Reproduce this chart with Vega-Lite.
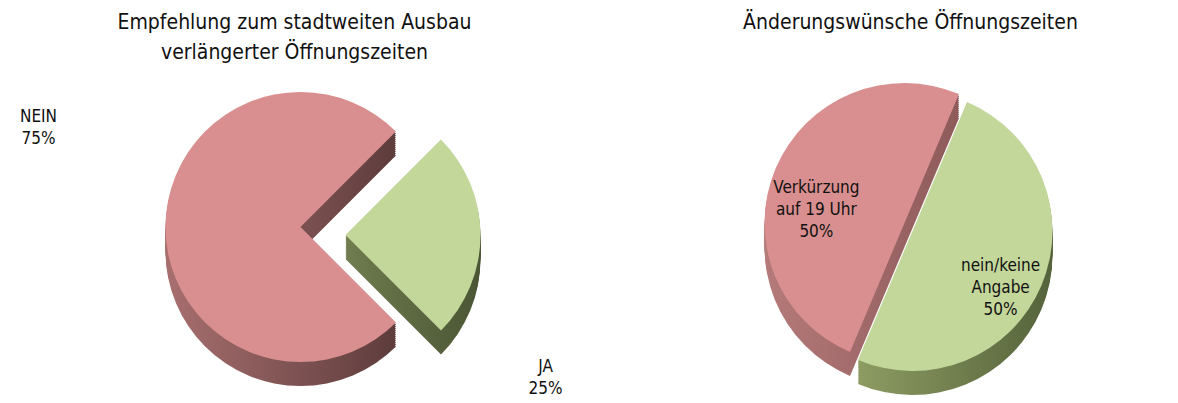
{
  "$schema": "https://vega.github.io/schema/vega-lite/v6.json",
  "padding": {"top": 12, "left": 0, "right": 0, "bottom": 0},
  "spacing": 0,
  "background": "white",
  "config": {
    "view": {"stroke": null},
    "title": {"font": "DejaVu Sans Condensed, Liberation Sans, sans-serif", "fontSize": 21, "fontWeight": "normal", "color": "#111111", "lineHeight": 30, "offset": 4},
    "text": {"font": "DejaVu Sans Condensed, Liberation Sans, sans-serif", "fontSize": 17, "lineBreak": "\n", "color": "#111111", "lineHeight": 22}
  },
  "hconcat": [
    {
      "width": 589,
      "height": 320,
      "title": {"text": ["Empfehlung zum stadtweiten Ausbau", "verlängerter Öffnungszeiten"]},
      "data": {"values": [
        {"cat": "JA", "pct": 25, "order": 1, "label": "JA\n25%"},
        {"cat": "NEIN", "pct": 75, "order": 2, "label": "NEIN\n75%"}
      ]},
      "transform": [{"stack": "pct", "groupby": [], "sort": [{"field": "order", "order": "ascending"}], "as": ["t0", "t1"]}],
      "layer": [
        {
          "transform": [{"filter": "datum.cat === 'NEIN'"}],
          "encoding": {"theta": {"field": "t0", "type": "quantitative", "scale": {"domain": [0, 100], "range": [0.785, 7.068]}}, "theta2": {"field": "t1"}},
          "layer": [
            {"mark": {"type": "arc", "outerRadius": 135, "xOffset": 6, "yOffset": 24, "color": {"gradient": "linear", "x1": 0, "y1": 0, "x2": 1, "y2": 0, "stops": [{"offset": 0, "color": "#a86f6f"}, {"offset": 1, "color": "#5e3c3c"}]}}},
            {"mark": {"type": "arc", "outerRadius": 135, "xOffset": 6, "yOffset": 22, "color": {"gradient": "linear", "x1": 0, "y1": 0, "x2": 1, "y2": 0, "stops": [{"offset": 0, "color": "#a86f6f"}, {"offset": 1, "color": "#5e3c3c"}]}}},
            {"mark": {"type": "arc", "outerRadius": 135, "xOffset": 6, "yOffset": 20, "color": {"gradient": "linear", "x1": 0, "y1": 0, "x2": 1, "y2": 0, "stops": [{"offset": 0, "color": "#a86f6f"}, {"offset": 1, "color": "#5e3c3c"}]}}},
            {"mark": {"type": "arc", "outerRadius": 135, "xOffset": 6, "yOffset": 18, "color": {"gradient": "linear", "x1": 0, "y1": 0, "x2": 1, "y2": 0, "stops": [{"offset": 0, "color": "#a86f6f"}, {"offset": 1, "color": "#5e3c3c"}]}}},
            {"mark": {"type": "arc", "outerRadius": 135, "xOffset": 6, "yOffset": 16, "color": {"gradient": "linear", "x1": 0, "y1": 0, "x2": 1, "y2": 0, "stops": [{"offset": 0, "color": "#a86f6f"}, {"offset": 1, "color": "#5e3c3c"}]}}},
            {"mark": {"type": "arc", "outerRadius": 135, "xOffset": 6, "yOffset": 14, "color": {"gradient": "linear", "x1": 0, "y1": 0, "x2": 1, "y2": 0, "stops": [{"offset": 0, "color": "#a86f6f"}, {"offset": 1, "color": "#5e3c3c"}]}}},
            {"mark": {"type": "arc", "outerRadius": 135, "xOffset": 6, "yOffset": 12, "color": {"gradient": "linear", "x1": 0, "y1": 0, "x2": 1, "y2": 0, "stops": [{"offset": 0, "color": "#a86f6f"}, {"offset": 1, "color": "#5e3c3c"}]}}},
            {"mark": {"type": "arc", "outerRadius": 135, "xOffset": 6, "yOffset": 10, "color": {"gradient": "linear", "x1": 0, "y1": 0, "x2": 1, "y2": 0, "stops": [{"offset": 0, "color": "#a86f6f"}, {"offset": 1, "color": "#5e3c3c"}]}}},
            {"mark": {"type": "arc", "outerRadius": 135, "xOffset": 6, "yOffset": 8, "color": {"gradient": "linear", "x1": 0, "y1": 0, "x2": 1, "y2": 0, "stops": [{"offset": 0, "color": "#a86f6f"}, {"offset": 1, "color": "#5e3c3c"}]}}},
            {"mark": {"type": "arc", "outerRadius": 135, "xOffset": 6, "yOffset": 6, "color": {"gradient": "linear", "x1": 0, "y1": 0, "x2": 1, "y2": 0, "stops": [{"offset": 0, "color": "#a86f6f"}, {"offset": 1, "color": "#5e3c3c"}]}}},
            {"mark": {"type": "arc", "outerRadius": 135, "xOffset": 6, "yOffset": 4, "color": {"gradient": "linear", "x1": 0, "y1": 0, "x2": 1, "y2": 0, "stops": [{"offset": 0, "color": "#a86f6f"}, {"offset": 1, "color": "#5e3c3c"}]}}},
            {"mark": {"type": "arc", "outerRadius": 135, "xOffset": 6, "yOffset": 2, "color": {"gradient": "linear", "x1": 0, "y1": 0, "x2": 1, "y2": 0, "stops": [{"offset": 0, "color": "#a86f6f"}, {"offset": 1, "color": "#5e3c3c"}]}}},
            {"mark": {"type": "arc", "outerRadius": 135, "xOffset": 6, "yOffset": 0, "color": "#d98f8f"}}
          ]
        },
        {
          "transform": [{"filter": "datum.cat === 'JA'"}],
          "encoding": {"theta": {"field": "t0", "type": "quantitative", "scale": {"domain": [0, 100], "range": [0.785, 7.068]}}, "theta2": {"field": "t1"}},
          "layer": [
            {"mark": {"type": "arc", "outerRadius": 135, "xOffset": 51, "yOffset": 32, "color": {"gradient": "linear", "x1": 0, "y1": 0, "x2": 1, "y2": 0, "stops": [{"offset": 0, "color": "#6f7d4f"}, {"offset": 1, "color": "#4a5534"}]}}},
            {"mark": {"type": "arc", "outerRadius": 135, "xOffset": 51, "yOffset": 30, "color": {"gradient": "linear", "x1": 0, "y1": 0, "x2": 1, "y2": 0, "stops": [{"offset": 0, "color": "#6f7d4f"}, {"offset": 1, "color": "#4a5534"}]}}},
            {"mark": {"type": "arc", "outerRadius": 135, "xOffset": 51, "yOffset": 28, "color": {"gradient": "linear", "x1": 0, "y1": 0, "x2": 1, "y2": 0, "stops": [{"offset": 0, "color": "#6f7d4f"}, {"offset": 1, "color": "#4a5534"}]}}},
            {"mark": {"type": "arc", "outerRadius": 135, "xOffset": 51, "yOffset": 26, "color": {"gradient": "linear", "x1": 0, "y1": 0, "x2": 1, "y2": 0, "stops": [{"offset": 0, "color": "#6f7d4f"}, {"offset": 1, "color": "#4a5534"}]}}},
            {"mark": {"type": "arc", "outerRadius": 135, "xOffset": 51, "yOffset": 24, "color": {"gradient": "linear", "x1": 0, "y1": 0, "x2": 1, "y2": 0, "stops": [{"offset": 0, "color": "#6f7d4f"}, {"offset": 1, "color": "#4a5534"}]}}},
            {"mark": {"type": "arc", "outerRadius": 135, "xOffset": 51, "yOffset": 22, "color": {"gradient": "linear", "x1": 0, "y1": 0, "x2": 1, "y2": 0, "stops": [{"offset": 0, "color": "#6f7d4f"}, {"offset": 1, "color": "#4a5534"}]}}},
            {"mark": {"type": "arc", "outerRadius": 135, "xOffset": 51, "yOffset": 20, "color": {"gradient": "linear", "x1": 0, "y1": 0, "x2": 1, "y2": 0, "stops": [{"offset": 0, "color": "#6f7d4f"}, {"offset": 1, "color": "#4a5534"}]}}},
            {"mark": {"type": "arc", "outerRadius": 135, "xOffset": 51, "yOffset": 18, "color": {"gradient": "linear", "x1": 0, "y1": 0, "x2": 1, "y2": 0, "stops": [{"offset": 0, "color": "#6f7d4f"}, {"offset": 1, "color": "#4a5534"}]}}},
            {"mark": {"type": "arc", "outerRadius": 135, "xOffset": 51, "yOffset": 16, "color": {"gradient": "linear", "x1": 0, "y1": 0, "x2": 1, "y2": 0, "stops": [{"offset": 0, "color": "#6f7d4f"}, {"offset": 1, "color": "#4a5534"}]}}},
            {"mark": {"type": "arc", "outerRadius": 135, "xOffset": 51, "yOffset": 14, "color": {"gradient": "linear", "x1": 0, "y1": 0, "x2": 1, "y2": 0, "stops": [{"offset": 0, "color": "#6f7d4f"}, {"offset": 1, "color": "#4a5534"}]}}},
            {"mark": {"type": "arc", "outerRadius": 135, "xOffset": 51, "yOffset": 12, "color": {"gradient": "linear", "x1": 0, "y1": 0, "x2": 1, "y2": 0, "stops": [{"offset": 0, "color": "#6f7d4f"}, {"offset": 1, "color": "#4a5534"}]}}},
            {"mark": {"type": "arc", "outerRadius": 135, "xOffset": 51, "yOffset": 10, "color": {"gradient": "linear", "x1": 0, "y1": 0, "x2": 1, "y2": 0, "stops": [{"offset": 0, "color": "#6f7d4f"}, {"offset": 1, "color": "#4a5534"}]}}},
            {"mark": {"type": "arc", "outerRadius": 135, "xOffset": 51, "yOffset": 8, "color": "#c4d79b"}}
          ]
        },
        {"mark": {"type": "text", "radius": 160, "xOffset": 6, "dx": -102, "dy": -110},
         "encoding": {"theta": {"field": "pct", "type": "quantitative", "stack": true, "scale": {"domain": [0, 100], "range": [0.785, 7.068]}}, "order": {"field": "order"}, "text": {"field": "label"}, "opacity": {"condition": {"test": "datum.cat === 'NEIN'", "value": 1}, "value": 0}}},
        {"mark": {"type": "text", "radius": 160, "xOffset": 6, "dx": 85, "dy": 140},
         "encoding": {"theta": {"field": "pct", "type": "quantitative", "stack": true, "scale": {"domain": [0, 100], "range": [0.785, 7.068]}}, "order": {"field": "order"}, "text": {"field": "label"}, "opacity": {"condition": {"test": "datum.cat === 'JA'", "value": 1}, "value": 0}}}
      ]
    },
    {
      "width": 589,
      "height": 320,
      "title": {"text": "Änderungswünsche Öffnungszeiten", "dx": 27, "dy": -30},
      "data": {"values": [
        {"cat": "nein/keine Angabe", "pct": 50, "order": 1, "label": "nein/keine\nAngabe\n50%"},
        {"cat": "Verkürzung auf 19 Uhr", "pct": 50, "order": 2, "label": "Verkürzung\nauf 19 Uhr\n50%"}
      ]},
      "transform": [{"stack": "pct", "groupby": [], "sort": [{"field": "order", "order": "ascending"}], "as": ["t0", "t1"]}],
      "layer": [
        {
          "transform": [{"filter": "datum.order === 2"}],
          "encoding": {"theta": {"field": "t0", "type": "quantitative", "scale": {"domain": [0, 100], "range": [0.4, 6.683]}}, "theta2": {"field": "t1"}},
          "layer": [
            {"mark": {"type": "arc", "outerRadius": 140, "xOffset": 21, "yOffset": 20, "color": {"gradient": "linear", "x1": 0, "y1": 0, "x2": 1, "y2": 0, "stops": [{"offset": 0, "color": "#b57a7a"}, {"offset": 1, "color": "#8e5a5a"}]}}},
            {"mark": {"type": "arc", "outerRadius": 140, "xOffset": 21, "yOffset": 18, "color": {"gradient": "linear", "x1": 0, "y1": 0, "x2": 1, "y2": 0, "stops": [{"offset": 0, "color": "#b57a7a"}, {"offset": 1, "color": "#8e5a5a"}]}}},
            {"mark": {"type": "arc", "outerRadius": 140, "xOffset": 21, "yOffset": 16, "color": {"gradient": "linear", "x1": 0, "y1": 0, "x2": 1, "y2": 0, "stops": [{"offset": 0, "color": "#b57a7a"}, {"offset": 1, "color": "#8e5a5a"}]}}},
            {"mark": {"type": "arc", "outerRadius": 140, "xOffset": 21, "yOffset": 14, "color": {"gradient": "linear", "x1": 0, "y1": 0, "x2": 1, "y2": 0, "stops": [{"offset": 0, "color": "#b57a7a"}, {"offset": 1, "color": "#8e5a5a"}]}}},
            {"mark": {"type": "arc", "outerRadius": 140, "xOffset": 21, "yOffset": 12, "color": {"gradient": "linear", "x1": 0, "y1": 0, "x2": 1, "y2": 0, "stops": [{"offset": 0, "color": "#b57a7a"}, {"offset": 1, "color": "#8e5a5a"}]}}},
            {"mark": {"type": "arc", "outerRadius": 140, "xOffset": 21, "yOffset": 10, "color": {"gradient": "linear", "x1": 0, "y1": 0, "x2": 1, "y2": 0, "stops": [{"offset": 0, "color": "#b57a7a"}, {"offset": 1, "color": "#8e5a5a"}]}}},
            {"mark": {"type": "arc", "outerRadius": 140, "xOffset": 21, "yOffset": 8, "color": {"gradient": "linear", "x1": 0, "y1": 0, "x2": 1, "y2": 0, "stops": [{"offset": 0, "color": "#b57a7a"}, {"offset": 1, "color": "#8e5a5a"}]}}},
            {"mark": {"type": "arc", "outerRadius": 140, "xOffset": 21, "yOffset": 6, "color": {"gradient": "linear", "x1": 0, "y1": 0, "x2": 1, "y2": 0, "stops": [{"offset": 0, "color": "#b57a7a"}, {"offset": 1, "color": "#8e5a5a"}]}}},
            {"mark": {"type": "arc", "outerRadius": 140, "xOffset": 21, "yOffset": 4, "color": {"gradient": "linear", "x1": 0, "y1": 0, "x2": 1, "y2": 0, "stops": [{"offset": 0, "color": "#b57a7a"}, {"offset": 1, "color": "#8e5a5a"}]}}},
            {"mark": {"type": "arc", "outerRadius": 140, "xOffset": 21, "yOffset": 2, "color": {"gradient": "linear", "x1": 0, "y1": 0, "x2": 1, "y2": 0, "stops": [{"offset": 0, "color": "#b57a7a"}, {"offset": 1, "color": "#8e5a5a"}]}}},
            {"mark": {"type": "arc", "outerRadius": 140, "xOffset": 21, "yOffset": 0, "color": {"gradient": "linear", "x1": 0, "y1": 0, "x2": 1, "y2": 0, "stops": [{"offset": 0, "color": "#b57a7a"}, {"offset": 1, "color": "#8e5a5a"}]}}},
            {"mark": {"type": "arc", "outerRadius": 140, "xOffset": 21, "yOffset": -2, "color": {"gradient": "linear", "x1": 0, "y1": 0, "x2": 1, "y2": 0, "stops": [{"offset": 0, "color": "#b57a7a"}, {"offset": 1, "color": "#8e5a5a"}]}}},
            {"mark": {"type": "arc", "outerRadius": 140, "xOffset": 21, "yOffset": -4, "color": "#d98f8f"}}
          ]
        },
        {
          "transform": [{"filter": "datum.order === 1"}],
          "encoding": {"theta": {"field": "t0", "type": "quantitative", "scale": {"domain": [0, 100], "range": [0.4, 6.683]}}, "theta2": {"field": "t1"}},
          "layer": [
            {"mark": {"type": "arc", "outerRadius": 140, "xOffset": 29, "yOffset": 28, "color": {"gradient": "linear", "x1": 0, "y1": 0, "x2": 1, "y2": 0, "stops": [{"offset": 0, "color": "#8d9c62"}, {"offset": 1, "color": "#55633b"}]}}},
            {"mark": {"type": "arc", "outerRadius": 140, "xOffset": 29, "yOffset": 26, "color": {"gradient": "linear", "x1": 0, "y1": 0, "x2": 1, "y2": 0, "stops": [{"offset": 0, "color": "#8d9c62"}, {"offset": 1, "color": "#55633b"}]}}},
            {"mark": {"type": "arc", "outerRadius": 140, "xOffset": 29, "yOffset": 24, "color": {"gradient": "linear", "x1": 0, "y1": 0, "x2": 1, "y2": 0, "stops": [{"offset": 0, "color": "#8d9c62"}, {"offset": 1, "color": "#55633b"}]}}},
            {"mark": {"type": "arc", "outerRadius": 140, "xOffset": 29, "yOffset": 22, "color": {"gradient": "linear", "x1": 0, "y1": 0, "x2": 1, "y2": 0, "stops": [{"offset": 0, "color": "#8d9c62"}, {"offset": 1, "color": "#55633b"}]}}},
            {"mark": {"type": "arc", "outerRadius": 140, "xOffset": 29, "yOffset": 20, "color": {"gradient": "linear", "x1": 0, "y1": 0, "x2": 1, "y2": 0, "stops": [{"offset": 0, "color": "#8d9c62"}, {"offset": 1, "color": "#55633b"}]}}},
            {"mark": {"type": "arc", "outerRadius": 140, "xOffset": 29, "yOffset": 18, "color": {"gradient": "linear", "x1": 0, "y1": 0, "x2": 1, "y2": 0, "stops": [{"offset": 0, "color": "#8d9c62"}, {"offset": 1, "color": "#55633b"}]}}},
            {"mark": {"type": "arc", "outerRadius": 140, "xOffset": 29, "yOffset": 16, "color": {"gradient": "linear", "x1": 0, "y1": 0, "x2": 1, "y2": 0, "stops": [{"offset": 0, "color": "#8d9c62"}, {"offset": 1, "color": "#55633b"}]}}},
            {"mark": {"type": "arc", "outerRadius": 140, "xOffset": 29, "yOffset": 14, "color": {"gradient": "linear", "x1": 0, "y1": 0, "x2": 1, "y2": 0, "stops": [{"offset": 0, "color": "#8d9c62"}, {"offset": 1, "color": "#55633b"}]}}},
            {"mark": {"type": "arc", "outerRadius": 140, "xOffset": 29, "yOffset": 12, "color": {"gradient": "linear", "x1": 0, "y1": 0, "x2": 1, "y2": 0, "stops": [{"offset": 0, "color": "#8d9c62"}, {"offset": 1, "color": "#55633b"}]}}},
            {"mark": {"type": "arc", "outerRadius": 140, "xOffset": 29, "yOffset": 10, "color": {"gradient": "linear", "x1": 0, "y1": 0, "x2": 1, "y2": 0, "stops": [{"offset": 0, "color": "#8d9c62"}, {"offset": 1, "color": "#55633b"}]}}},
            {"mark": {"type": "arc", "outerRadius": 140, "xOffset": 29, "yOffset": 8, "color": {"gradient": "linear", "x1": 0, "y1": 0, "x2": 1, "y2": 0, "stops": [{"offset": 0, "color": "#8d9c62"}, {"offset": 1, "color": "#55633b"}]}}},
            {"mark": {"type": "arc", "outerRadius": 140, "xOffset": 29, "yOffset": 6, "color": {"gradient": "linear", "x1": 0, "y1": 0, "x2": 1, "y2": 0, "stops": [{"offset": 0, "color": "#8d9c62"}, {"offset": 1, "color": "#55633b"}]}}},
            {"mark": {"type": "arc", "outerRadius": 140, "xOffset": 29, "yOffset": 4, "color": "#c4d79b"}}
          ]
        },
        {"mark": {"type": "text", "radius": 100, "xOffset": 25},
         "encoding": {"theta": {"field": "pct", "type": "quantitative", "stack": true, "scale": {"domain": [0, 100], "range": [0.4, 6.683]}}, "order": {"field": "order"}, "text": {"field": "label"}}}
      ]
    }
  ]
}
